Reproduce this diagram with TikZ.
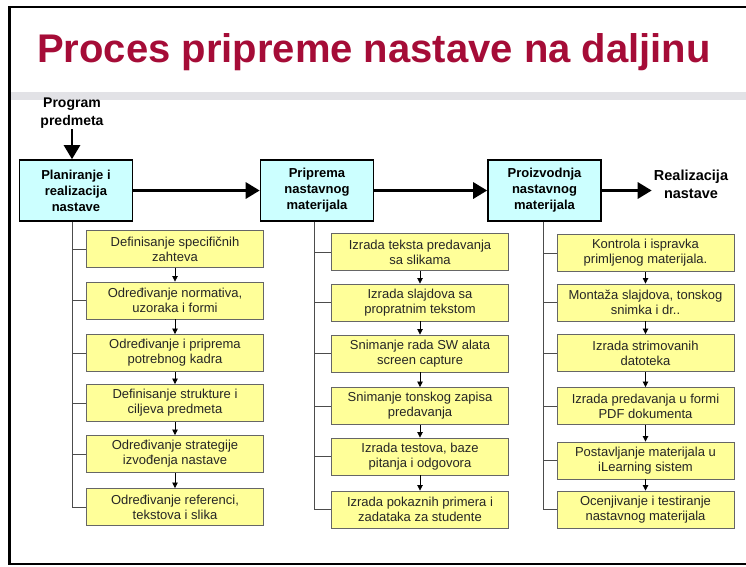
\documentclass[tikz,border=0pt]{standalone}
\usepackage{fontspec}
\setmainfont{Liberation Sans}
\usepackage{xcolor}
\usepackage{tikz}
\usetikzlibrary{arrows.meta}
\definecolor{titlered}{RGB}{165,12,55}
\definecolor{phasecyan}{RGB}{204,255,255}
\definecolor{taskyellow}{RGB}{255,255,153}
\definecolor{bandgray}{RGB}{226,226,230}
\tikzset{
  phase/.style={draw=black, line width=1.6pt, fill=phasecyan, minimum width=113pt, minimum height=61pt, inner sep=0pt, align=center, font=\fontsize{13}{16}\selectfont\bfseries},
  task/.style={draw=black!60, line width=0.9pt, fill=taskyellow, minimum width=177pt, minimum height=37pt, inner sep=0pt, align=center, text=black!85, font=\fontsize{13}{15}\selectfont},
  bigarrow/.style={line width=3pt, -{Triangle[length=14pt,width=16pt]}},
  smallarrow/.style={line width=0.8pt, -{Triangle[length=5.5pt,width=5.5pt]}},
  tree/.style={draw=black!70, line width=0.9pt}
}
\begin{document}
\begin{tikzpicture}[x=1pt,y=-1pt]
\useasboundingbox (0,0) rectangle (746,566);
\fill[bandgray] (11,92) rectangle (746,100);
\draw[line width=2.5pt] (746,7) -- (9.5,7) -- (9.5,564) -- (746,564);
\node[anchor=base west, inner sep=0pt, text=titlered, font=\fontsize{40}{48}\selectfont\bfseries] (title) at (37,62) {Proces pripreme nastave na daljinu};

\node[inner sep=1pt, align=center, font=\fontsize{14}{18}\selectfont\bfseries] (prog) at (72,113) {Program\\predmeta};
\node[phase] (p1) at (76,190.5) {Planiranje i\\realizacija\\nastave};
\node[phase] (p2) at (317,190.5) {Priprema\\nastavnog\\materijala};
\node[phase] (p3) at (544.5,190.5) {Proizvodnja\\nastavnog\\materijala};
\node[inner sep=2pt, align=center, font=\fontsize{14.5}{18}\selectfont\bfseries] (real) at (691,184) {Realizacija\\nastave};

\draw[bigarrow, line width=2.5pt] (prog.south) -- (prog.south |- p1.north);
\draw[bigarrow] (p1) -- (p2);
\draw[bigarrow] (p2) -- (p3);
\draw[bigarrow] (p3.east) -- (p3.east -| real.west);

\node[task] (a1) at (175,249) {Definisanje specifičnih\\zahteva};
\node[task] (a2) at (175,300.5) {Određivanje normativa,\\uzoraka i formi};
\node[task] (a3) at (175,353) {Određivanje i priprema\\potrebnog kadra};
\node[task] (a4) at (175,403) {Definisanje strukture i\\ciljeva predmeta};
\node[task] (a5) at (175,454) {Određivanje strategije\\izvođenja nastave};
\node[task] (a6) at (175,507) {Određivanje referenci,\\tekstova i slika};

\node[task] (b1) at (420,252) {Izrada teksta predavanja\\sa slikama};
\node[task] (b2) at (420,302.5) {Izrada slajdova sa\\propratnim tekstom};
\node[task] (b3) at (420,353.5) {Snimanje rada SW alata\\screen capture};
\node[task] (b4) at (420,406) {Snimanje tonskog zapisa\\predavanja};
\node[task] (b5) at (420,456.5) {Izrada testova, baze\\pitanja i odgovora};
\node[task] (b6) at (420,509.5) {Izrada pokaznih primera i\\zadataka za studente};

\node[task] (c1) at (645.5,253) {Kontrola i ispravka\\primljenog materijala.};
\node[task] (c2) at (645.5,302.5) {Montaža slajdova, tonskog\\snimka i dr..};
\node[task] (c3) at (645.5,353) {Izrada strimovanih\\datoteka};
\node[task] (c4) at (645.5,406) {Izrada predavanja u formi\\PDF dokumenta};
\node[task] (c5) at (645.5,460.5) {Postavljanje materijala u\\iLearning sistem};
\node[task] (c6) at (645.5,509.5) {Ocenjivanje i testiranje\\nastavnog materijala};

\coordinate (t1) at ([xshift=-4pt]p1.south);
\coordinate (t2) at ([xshift=-3pt]p2.south);
\coordinate (t3) at ([xshift=-1.5pt]p3.south);
\draw[tree] (t1) |- (a1.west) (t1) |- (a2.west) (t1) |- (a3.west) (t1) |- (a4.west) (t1) |- (a5.west) (t1) |- (a6.west);
\draw[tree] (t2) |- (b1.west) (t2) |- (b2.west) (t2) |- (b3.west) (t2) |- (b4.west) (t2) |- (b5.west) (t2) |- (b6.west);
\draw[tree] (t3) |- (c1.west) (t3) |- (c2.west) (t3) |- (c3.west) (t3) |- (c4.west) (t3) |- (c5.west) (t3) |- (c6.west);

\draw[smallarrow] (a1) -- (a2);
\draw[smallarrow] (a2) -- (a3);
\draw[smallarrow] (a3) -- (a4);
\draw[smallarrow] (a4) -- (a5);
\draw[smallarrow] (a5) -- (a6);
\draw[smallarrow] (b1) -- (b2);
\draw[smallarrow] (b2) -- (b3);
\draw[smallarrow] (b3) -- (b4);
\draw[smallarrow] (b4) -- (b5);
\draw[smallarrow] (b5) -- (b6);
\draw[smallarrow] (c1) -- (c2);
\draw[smallarrow] (c2) -- (c3);
\draw[smallarrow] (c3) -- (c4);
\draw[smallarrow] (c4) -- (c5);
\draw[smallarrow] (c5) -- (c6);
\end{tikzpicture}
\end{document}
